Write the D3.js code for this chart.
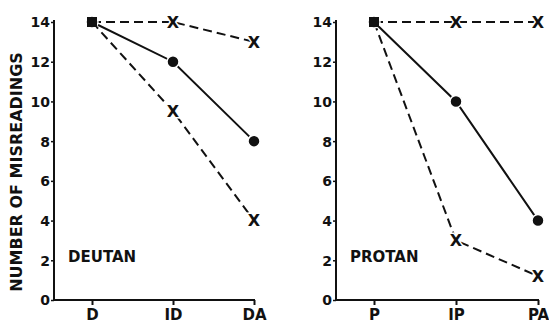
<!DOCTYPE html>
<html>
<head>
<meta charset="utf-8">
<script src="https://cdn.jsdelivr.net/npm/d3@7"></script>
<style>
  body { margin: 0; background: #fff; }
  svg { display: block; }
  text { font-family: "DejaVu Sans", sans-serif; font-weight: bold; fill: #111; }
</style>
</head>
<body>
<div class="chart"></div>
<script>
// 資料
const yTicks = [0, 2, 4, 6, 8, 10, 12, 14];
const deutanCats = ['D', 'ID', 'DA'];
const deutanTop = [14, 14, 13];   // 上方虛線
const deutanMid = [14, 12, 8];    // 實線 (圓點)
const deutanLow = [14, 9.5, 4];   // 下方虛線
const protanCats = ['P', 'IP', 'PA'];
const protanTop = [14, 14, 14];
const protanMid = [14, 10, 4];
const protanLow = [14, 3, 1.2];

const width = 549, height = 326;

const svg = d3.select('.chart')
  .append('svg')
  .attr('width', width)
  .attr('height', height);

// y 軸比例
const y = d3.scaleLinear().domain([0, 14]).range([300, 22]);

// Y 軸標題
svg.append('text')
  .attr('transform', `translate(22,172) rotate(-90)`)
  .attr('text-anchor', 'middle')
  .style('font-size', '16px')
  .text('NUMBER OF MISREADINGS');

function drawPanel(axisX, x0, x1, cats, top, mid, low, name) {
  const x = d3.scalePoint().domain(cats).range([x0, x1]);
  const g = svg.append('g');

  // y 軸
  const yAxis = d3.axisLeft(y).tickValues(yTicks).tickSize(3).tickPadding(1);
  const ya = g.append('g').attr('transform', `translate(${axisX},0)`).call(yAxis);
  ya.select('.domain').remove();
  ya.selectAll('.tick line').attr('stroke', '#111').attr('stroke-width', 1.5);
  ya.selectAll('.tick text').style('font-size', '14px').attr('dy', '0.35em');
  g.append('line')
    .attr('x1', axisX).attr('x2', axisX)
    .attr('y1', y(14) - 2).attr('y2', y(0))
    .attr('stroke', '#111').attr('stroke-width', 2);

  // x 軸
  const xAxis = d3.axisBottom(x).tickSize(5).tickPadding(4);
  const xa = g.append('g').attr('transform', `translate(0,${y(0)})`).call(xAxis);
  xa.select('.domain').remove();
  xa.selectAll('.tick line').attr('stroke', '#111').attr('stroke-width', 2);
  xa.selectAll('.tick text').style('font-size', '15px');
  g.append('line')
    .attr('x1', axisX).attr('x2', x1 + 1)
    .attr('y1', y(0)).attr('y2', y(0))
    .attr('stroke', '#111').attr('stroke-width', 2);

  const line = d3.line().x((d, i) => x(cats[i])).y((d) => y(d));

  // 線
  [[top, '9,5'], [low, '9,5'], [mid, null]].forEach(([vals, dash]) => {
    g.append('path')
      .datum(vals)
      .attr('d', line)
      .attr('fill', 'none')
      .attr('stroke', '#111')
      .attr('stroke-width', 2)
      .attr('stroke-dasharray', dash);
  });

  // 圓點
  g.selectAll('.dot')
    .data(mid)
    .join('circle')
    .attr('cx', (d, i) => x(cats[i]))
    .attr('cy', (d) => y(d))
    .attr('r', 6)
    .attr('fill', '#111')
    .attr('stroke', '#fff')
    .attr('stroke-width', 1.5);

  // X 記號
  const xs = top.map((d, i) => ({ c: cats[i], v: d }))
    .concat(low.map((d, i) => ({ c: cats[i], v: d })))
    .filter((d) => d.c !== cats[0]);
  g.selectAll('.xmark')
    .data(xs)
    .join('text')
    .attr('x', (d) => x(d.c))
    .attr('y', (d) => y(d.v))
    .attr('dy', '0.36em')
    .attr('text-anchor', 'middle')
    .style('font-size', '16px')
    .style('paint-order', 'stroke')
    .attr('stroke', '#fff')
    .attr('stroke-width', 3)
    .text('X');

  // 起點 (重疊記號)
  g.append('rect')
    .attr('x', x(cats[0]) - 5).attr('y', y(14) - 5)
    .attr('width', 10).attr('height', 10)
    .attr('fill', '#111');

  // 面板名稱
  g.append('text')
    .attr('x', axisX + 14)
    .attr('y', y(2) + 2)
    .style('font-size', '15px')
    .text(name);
}

drawPanel(54, 92, 254, deutanCats, deutanTop, deutanMid, deutanLow, 'DEUTAN');
drawPanel(336, 374, 538, protanCats, protanTop, protanMid, protanLow, 'PROTAN');
</script>
</body>
</html>
